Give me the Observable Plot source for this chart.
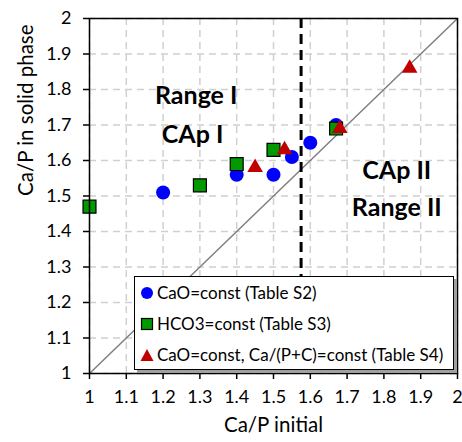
<!DOCTYPE html>
<html><head><meta charset="utf-8">
<script src="https://cdn.jsdelivr.net/npm/d3@7"></script>
<script src="https://cdn.jsdelivr.net/npm/@observablehq/plot@0.6"></script>
<style>
body{margin:0;background:#fff;font-family:Lato,sans-serif;}
#wrap{position:relative;width:462px;height:442px;}
#legend{position:absolute;left:134px;top:276px;width:320px;height:94px;background:#fff;border:1.5px solid #000;box-shadow:3px 3px 0 #a0a0a0;box-sizing:border-box;font-size:17px;}
.row{position:absolute;left:5px;display:flex;align-items:center;gap:3px;white-space:nowrap;}
</style></head>
<body><div id="wrap"></div>
<script>
const ticks = [1,1.1,1.2,1.3,1.4,1.5,1.6,1.7,1.8,1.9,2];
const tickLabels = ["1","1.1","1.2","1.3","1.4","1.5","1.6","1.7","1.8","1.9","2"];
const caoX = [1.2,1.4,1.5,1.55,1.6,1.67];
const caoY = [1.51,1.56,1.56,1.61,1.65,1.70];
const hco3X = [1.0,1.3,1.4,1.5,1.67];
const hco3Y = [1.47,1.53,1.59,1.63,1.69];
const s4X = [1.45,1.53,1.68,1.87];
const s4Y = [1.58,1.63,1.69,1.86];
const diagX = [1,2];
const diagY = [1,2];
const boundaryX = [1.575];
const labelText = ["Range I","CAp I","CAp II","Range II"];
const labelX = [1.29,1.28,1.835,1.835];
const labelY = [1.781,1.672,1.57,1.465];
const legendText = ["CaO=const (Table S2)","HCO3=const (Table S3)","CaO=const, Ca/(P+C)=const (Table S4)"];

const pts = (xs, ys) => xs.map((x,i)=>({x, y: ys[i]}));
const fmt = d => tickLabels[ticks.findIndex(t => Math.abs(t-d)<1e-9)];

const chart = Plot.plot({
  width: 462, height: 442,
  marginLeft: 89, marginRight: 5, marginTop: 18, marginBottom: 69,
  style: {fontFamily: "Lato, sans-serif", fontSize: "18px", color: "#000", background: "#fff"},
  x: {domain: [1,2], ticks: ticks},
  y: {domain: [1,2], ticks: ticks},
  marks: [
    Plot.gridX(ticks, {stroke: "#d0d0d0", strokeOpacity: 1, strokeWidth: 1.5, strokeDasharray: "7,5"}),
    Plot.gridY(ticks, {stroke: "#d0d0d0", strokeOpacity: 1, strokeWidth: 1.5, strokeDasharray: "7,5"}),
    Plot.line(pts(diagX, diagY), {x: "x", y: "y", stroke: "#808080", strokeWidth: 1.5}),
    Plot.ruleX(boundaryX, {stroke: "#000", strokeWidth: 3, strokeDasharray: "10,6"}),
    Plot.text(labelText.map((t,i)=>({t, x: labelX[i], y: labelY[i]})), {x:"x", y:"y", text:"t", fontSize: 25, fontWeight: "bold", fill: "#000"}),
    Plot.dot(pts(caoX, caoY), {x:"x", y:"y", r: 7, fill: "#0000ff", stroke: "none"}),
    Plot.dot(pts(hco3X, hco3Y), {x:"x", y:"y", r: 7.3, symbol: "square", fill: "#009900", stroke: "#000", strokeWidth: 1.2}),
    Plot.dot(pts(s4X, s4Y), {x:"x", y:"y", r: 5.8, symbol: "triangle", fill: "#c00000", stroke: "none"}),
    Plot.frame({stroke: "#000", strokeWidth: 1.5}),
    Plot.axisX(ticks, {tickSize: 6, tickPadding: 11, tickFormat: fmt, strokeWidth: 1.5, fontSize: 18, label: null}),
    Plot.axisY(ticks, {tickSize: 6, tickPadding: 12, tickFormat: fmt, strokeWidth: 1.5, fontSize: 18, label: null}),
    Plot.text(["Ca/P initial"], {frameAnchor: "bottom", dy: 58, fontSize: 20.5, fill: "#000"}),
    Plot.text(["Ca/P in solid phase"], {frameAnchor: "left", dx: -63, rotate: -90, fontSize: 20.5, fill: "#000"})
  ]
});
const wrap = document.getElementById("wrap");
wrap.appendChild(chart);

const legend = document.createElement("div");
legend.id = "legend";
const sym = [
  '<svg width="14" height="14"><circle cx="7" cy="7" r="6" fill="#0000ff"/></svg>',
  '<svg width="14" height="14"><rect x="1.5" y="1.5" width="11" height="11" fill="#009900" stroke="#000" stroke-width="1.2"/></svg>',
  '<svg width="14" height="14"><path d="M7 1 L13.5 13 L0.5 13 Z" fill="#c00000"/></svg>'
];
const tops = [5, 36, 67];
legendText.forEach((t,i)=>{
  const r = document.createElement("div");
  r.className = "row"; r.style.top = tops[i] + "px";
  r.innerHTML = sym[i] + "<span>" + t + "</span>";
  legend.appendChild(r);
});
wrap.appendChild(legend);
</script></body></html>
